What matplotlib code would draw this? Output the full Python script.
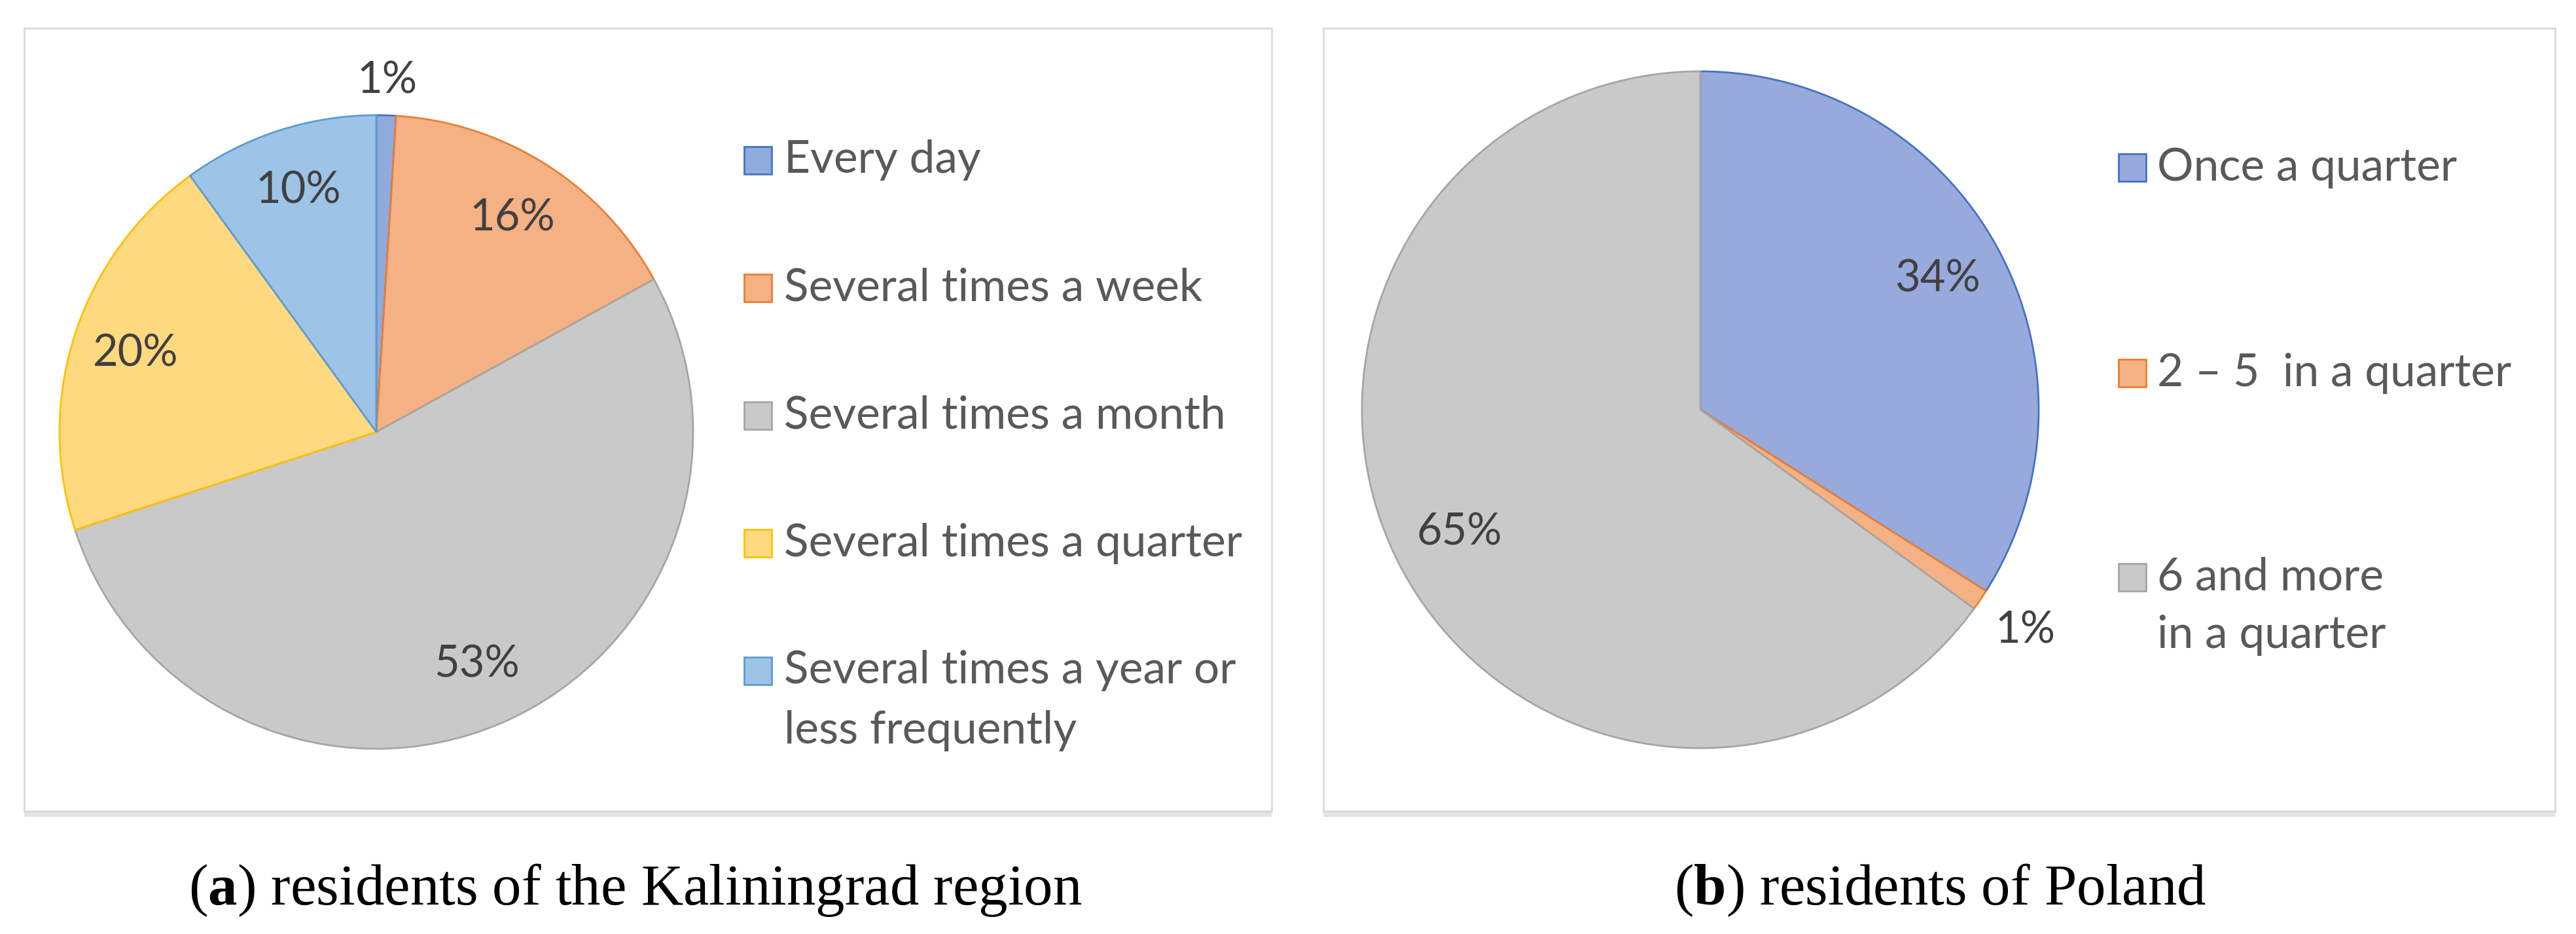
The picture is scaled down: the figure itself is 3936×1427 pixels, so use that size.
import numpy as np
import matplotlib
matplotlib.use("Agg")
import matplotlib.pyplot as plt
from matplotlib.patches import Rectangle

# data
kal_labels = ["Every day", "Several times a week", "Several times a month",
              "Several times a quarter", "Several times a year or\nless frequently"]
kal_values = [1, 16, 53, 20, 10]
kal_fill = ["#8FAADC", "#F4B183", "#C9C9C9", "#FFD97F", "#9DC3E6"]
kal_edge = ["#4472C4", "#ED7D31", "#A5A5A5", "#FFC000", "#5B9BD5"]

pol_labels = ["Once a quarter", "2 \u2013 5  in a quarter", "6 and more\nin a quarter"]
pol_values = [34, 1, 65]
pol_fill = ["#98A9DB", "#F4B183", "#C9C9C9"]
pol_edge = ["#4472C4", "#ED7D31", "#A5A5A5"]

captions = [("a", "residents of the Kaliningrad region"),
            ("b", "residents of Poland")]

plt.rcParams["font.family"] = ["Lato", "DejaVu Sans"]
plt.rcParams["mathtext.fontset"] = "custom"
plt.rcParams["mathtext.rm"] = "Liberation Serif"
plt.rcParams["mathtext.bf"] = "Liberation Serif:bold"

W, H = 3936, 1427
fig = plt.figure(figsize=(W / 100, H / 100), dpi=100)

# overlay axes in pixel coords for boxes, legends, captions
ov = fig.add_axes([0, 0, 1, 1])
ov.set_xlim(0, W)
ov.set_ylim(H, 0)
ov.axis("off")


def pie_axes(cx, cy, r):
    ax = fig.add_axes([(cx - r) / W, (H - cy - r) / H, 2 * r / W, 2 * r / H])
    return ax


def draw_pie(ax, values, fill, edge, out_dist):
    wedges, texts, autotexts = ax.pie(
        values, colors=fill, startangle=90, counterclock=False,
        autopct=lambda p: "{:.0f}%".format(p), pctdistance=0.8,
        wedgeprops=dict(linewidth=2),
        textprops=dict(fontsize=48, color="#404040"))
    for w, ec in zip(wedges, edge):
        w.set_edgecolor(ec)
    ax.set_xlim(-1, 1)
    ax.set_ylim(-1, 1)
    # small slices get their label outside the pie
    for w, t, v in zip(wedges, autotexts, values):
        if v < 5:
            ang = np.deg2rad((w.theta1 + w.theta2) / 2)
            t.set_position((out_dist * np.cos(ang), out_dist * np.sin(ang)))
    return wedges


def draw_legend(x_sq, x_txt, rows, labels, fill, edge, line_gap):
    for y, lab, fc, ec in zip(rows, labels, fill, edge):
        ov.add_patch(Rectangle((x_sq, y - 21), 42, 42, facecolor=fc,
                               edgecolor=ec, linewidth=2))
        for i, line in enumerate(lab.split("\n")):
            ov.text(x_txt, y + i * line_gap, line, fontsize=50,
                    color="#595959", va="center", ha="left")


# panel boxes with a faint shadow at the bottom
for x0, x1 in [(37, 1943), (2022, 3904)]:
    ov.add_patch(Rectangle((x0, 1238), x1 - x0, 10, facecolor="#E4E4E4",
                           edgecolor="none"))
    ov.add_patch(Rectangle((x0, 43), x1 - x0, 1240 - 43, facecolor="none",
                           edgecolor="#D9D9D9", linewidth=2))

ax1 = pie_axes(575, 660, 484)
draw_pie(ax1, kal_values, kal_fill, kal_edge, 1.11)
draw_legend(1137, 1198, [245 + 195 * i for i in range(5)],
            kal_labels, kal_fill, kal_edge, 92)

ax2 = pie_axes(2598, 626, 517)
draw_pie(ax2, pol_values, pol_fill, pol_edge, 1.16)
draw_legend(3237, 3296, [256, 570, 882], pol_labels, pol_fill, pol_edge, 88)

for cx, (letter, txt) in zip([971, 2965], captions):
    ov.text(cx, 1382, "(" + r"$\mathbf{" + letter + "}$" + ") " + txt,
            fontsize=64, family="Liberation Serif", color="black",
            ha="center", va="baseline")

fig.savefig("out.png", dpi=100)
